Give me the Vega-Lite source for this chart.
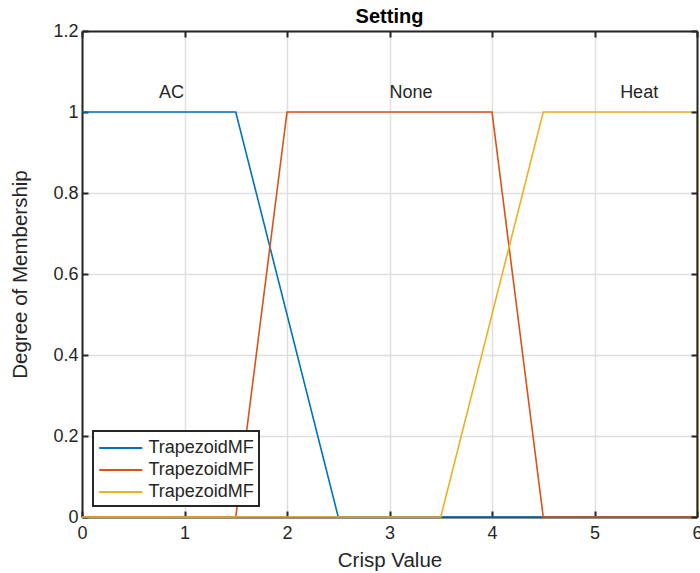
{
  "$schema": "https://vega.github.io/schema/vega-lite/v6.json",
  "width": 615,
  "height": 486,
  "autosize": "none",
  "padding": {"left": 82, "top": 31, "right": 3, "bottom": 56},
  "config": {
    "font": "Liberation Sans",
    "view": {"stroke": null},
    "axis": {
      "domainColor": "#262626",
      "domainWidth": 2,
      "tickColor": "#262626",
      "tickWidth": 2,
      "tickSize": -6,
      "labelColor": "#262626",
      "labelFontSize": 18,
      "labelFlush": false,
      "titleColor": "#262626",
      "titleFontSize": 20.5,
      "titleFontWeight": "normal",
      "gridColor": "#dfdfdf",
      "gridWidth": 1.5
    }
  },
  "title": {
    "text": "Setting",
    "fontSize": 20,
    "fontWeight": "bold",
    "color": "#000000",
    "offset": -5,
    "frame": "group"
  },
  "layer": [
    {
      "data": {
        "values": [
          {"mf": "mf1", "x": 0, "y": 1},
          {"mf": "mf1", "x": 1.5, "y": 1},
          {"mf": "mf1", "x": 2.5, "y": 0},
          {"mf": "mf1", "x": 6, "y": 0},
          {"mf": "mf2", "x": 0, "y": 0},
          {"mf": "mf2", "x": 1.5, "y": 0},
          {"mf": "mf2", "x": 2, "y": 1},
          {"mf": "mf2", "x": 4, "y": 1},
          {"mf": "mf2", "x": 4.5, "y": 0},
          {"mf": "mf2", "x": 6, "y": 0},
          {"mf": "mf3", "x": 0, "y": 0},
          {"mf": "mf3", "x": 3.5, "y": 0},
          {"mf": "mf3", "x": 4.5, "y": 1},
          {"mf": "mf3", "x": 6, "y": 1},
          {"mf": "mf3", "x": 6, "y": 0}
        ]
      },
      "mark": {"type": "line", "strokeWidth": 1.6, "clip": false},
      "encoding": {
        "x": {
          "field": "x",
          "type": "quantitative",
          "scale": {"domain": [0, 6], "nice": false},
          "axis": {
            "orient": "bottom",
            "title": "Crisp Value",
            "values": [0, 1, 2, 3, 4, 5, 6],
            "format": "d",
            "labelPadding": 13,
            "titlePadding": 8,
            "grid": true
          }
        },
        "y": {
          "field": "y",
          "type": "quantitative",
          "scale": {"domain": [0, 1.2], "nice": false},
          "axis": {
            "orient": "left",
            "title": "Degree of Membership",
            "values": [0, 0.2, 0.4, 0.6, 0.8, 1, 1.2],
            "format": ".1~f",
            "labelPadding": 10,
            "titlePadding": 22,
            "grid": true
          }
        },
        "color": {
          "field": "mf",
          "type": "nominal",
          "scale": {
            "domain": ["mf1", "mf2", "mf3"],
            "range": ["#0072BD", "#D95319", "#EDB120"]
          },
          "legend": {
            "title": null,
            "orient": "bottom-left",
            "offset": 11,
            "labelExpr": "'TrapezoidMF'",
            "labelFontSize": 18,
            "labelColor": "#262626",
            "labelOffset": 26.5,
            "symbolType": "M-1,0H3",
            "symbolSize": 462,
            "symbolStrokeWidth": 2,
            "rowPadding": 1,
            "padding": 5,
            "fillColor": "#ffffff",
            "strokeColor": "#262626",
            "encode": {
              "legend": {"update": {"strokeWidth": {"value": 2}}}
            }
          }
        },
        "order": {"value": null}
      }
    },
    {
      "data": {
        "values": [
          {"name": "AC", "x": 0.75, "y": 1.047},
          {"name": "None", "x": 3, "y": 1.047},
          {"name": "Heat", "x": 5.25, "y": 1.047}
        ]
      },
      "mark": {
        "type": "text",
        "align": "left",
        "baseline": "middle",
        "fontSize": 18,
        "color": "#262626"
      },
      "encoding": {
        "x": {
          "field": "x",
          "type": "quantitative",
          "scale": {"domain": [0, 6], "nice": false},
          "axis": {
            "orient": "top",
            "title": null,
            "values": [0, 1, 2, 3, 4, 5, 6],
            "labels": false,
            "grid": false,
            "zindex": 1
          }
        },
        "y": {
          "field": "y",
          "type": "quantitative",
          "scale": {"domain": [0, 1.2], "nice": false},
          "axis": {
            "orient": "right",
            "title": null,
            "values": [0, 0.2, 0.4, 0.6, 0.8, 1, 1.2],
            "labels": false,
            "grid": false,
            "zindex": 1
          }
        },
        "text": {"field": "name", "type": "nominal"}
      }
    }
  ],
  "resolve": {"scale": {"x": "independent", "y": "independent"}}
}
